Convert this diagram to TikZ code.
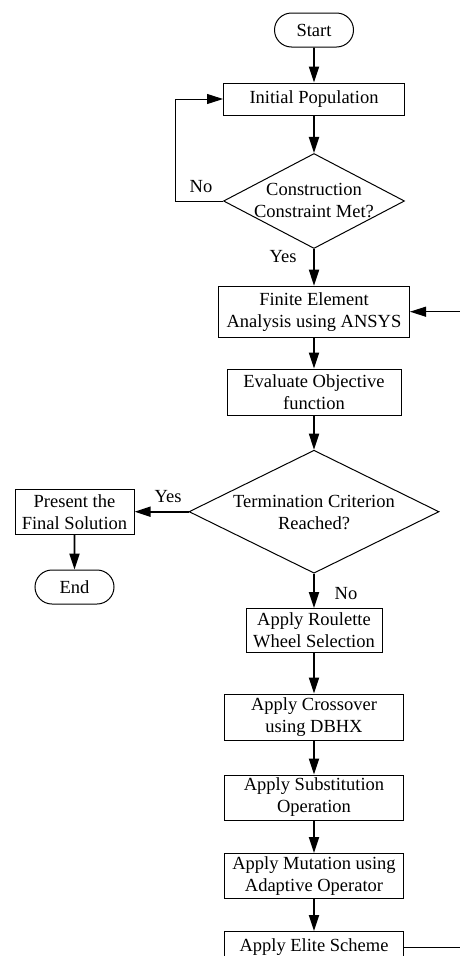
\documentclass[tikz,border=0pt]{standalone}
\usepackage{fontspec}
\setmainfont{Liberation Serif}
\usetikzlibrary{shapes.geometric,shapes.misc,arrows.meta}

\begin{document}
\begin{tikzpicture}[
x=1pt, y=-1pt,
font=\fontsize{18.5}{22}\selectfont,
terminal/.style={rounded rectangle, draw=black, line width=1pt, minimum width=79pt, minimum height=34pt, inner sep=0pt},
process/.style={rectangle, draw=black, line width=1pt, align=center, inner sep=0pt},
decision/.style={diamond, draw=black, line width=1pt, inner sep=0pt},
dtext/.style={align=center, inner sep=0pt},
flowarrow/.style={-{Triangle[length=16pt,width=10pt]}, line width=1.8pt},
feedback/.style={line width=1pt},
]
\useasboundingbox (0,0) rectangle (459,956);

\node[terminal] (start) at (314,30) {Start};
\node[process, minimum width=181pt, minimum height=32pt] (init) at (314,99) {Initial Population};
\node[decision, minimum width=181pt, minimum height=95pt] (cons) at (314,201) {};
\node[dtext] (consT) at (314,201) {Construction\\Constraint Met?};
\node[process, minimum width=191pt, minimum height=51pt] (fea) at (314,311.7) {Finite Element\\Analysis using ANSYS};
\node[process, minimum width=174pt, minimum height=46pt] (eval) at (314,392) {Evaluate Objective\\function};
\node[decision, minimum width=250pt, minimum height=123pt] (term) at (314,511.7) {};
\node[dtext] (termT) at (314,512) {Termination Criterion\\Reached?};
\node[process, minimum width=119pt, minimum height=45pt] (final) at (74.5,511.7) {Present the\\Final Solution};
\node[terminal] (stop) at (74.5,587) {End};
\node[process, minimum width=136pt, minimum height=44pt] (roul) at (314,630.5) {Apply Roulette\\Wheel Selection};
\node[process, minimum width=179pt, minimum height=46pt] (cross) at (314,717) {Apply Crossover\\using DBHX};
\node[process, minimum width=179pt, minimum height=45pt] (subst) at (314,797.5) {Apply Substitution\\Operation};
\node[process, minimum width=179pt, minimum height=45pt] (mut) at (314,876) {Apply Mutation using\\Adaptive Operator};
\node[process, minimum width=179pt, minimum height=31pt] (elite) at (314,947) {Apply Elite Scheme};

\node (yes1) at (283,257) {Yes};
\node (no1) at (201,187) {No};
\node (yes2) at (168,497) {Yes};
\node (no2) at (346,594) {No};

\coordinate (noB) at (175.7,201);
\coordinate (noT) at (175.7,99);
\coordinate (backB) at (470,947);
\coordinate (backT) at (470,311.7);

\draw[flowarrow] (start) -- (init);
\draw[flowarrow] (init) -- (cons);
\draw[flowarrow] (cons) -- (fea);
\draw[feedback, -{Triangle[length=16pt,width=10pt]}] (cons.west) -- (noB) -- (noT) -- (init.west);
\draw[flowarrow] (fea) -- (eval);
\draw[flowarrow] (eval) -- (term);
\draw[flowarrow] (term.west) -- (final.east);
\draw[flowarrow] (final) -- (stop);
\draw[flowarrow] (term.south) -- (roul);
\draw[flowarrow] (roul) -- (cross);
\draw[flowarrow] (cross) -- (subst);
\draw[flowarrow] (subst) -- (mut);
\draw[flowarrow] (mut) -- (elite);
\draw[feedback, -{Triangle[length=16pt,width=10pt]}] (elite.east) -- (backB) -- (backT) -- (fea.east);
\end{tikzpicture}
\end{document}
